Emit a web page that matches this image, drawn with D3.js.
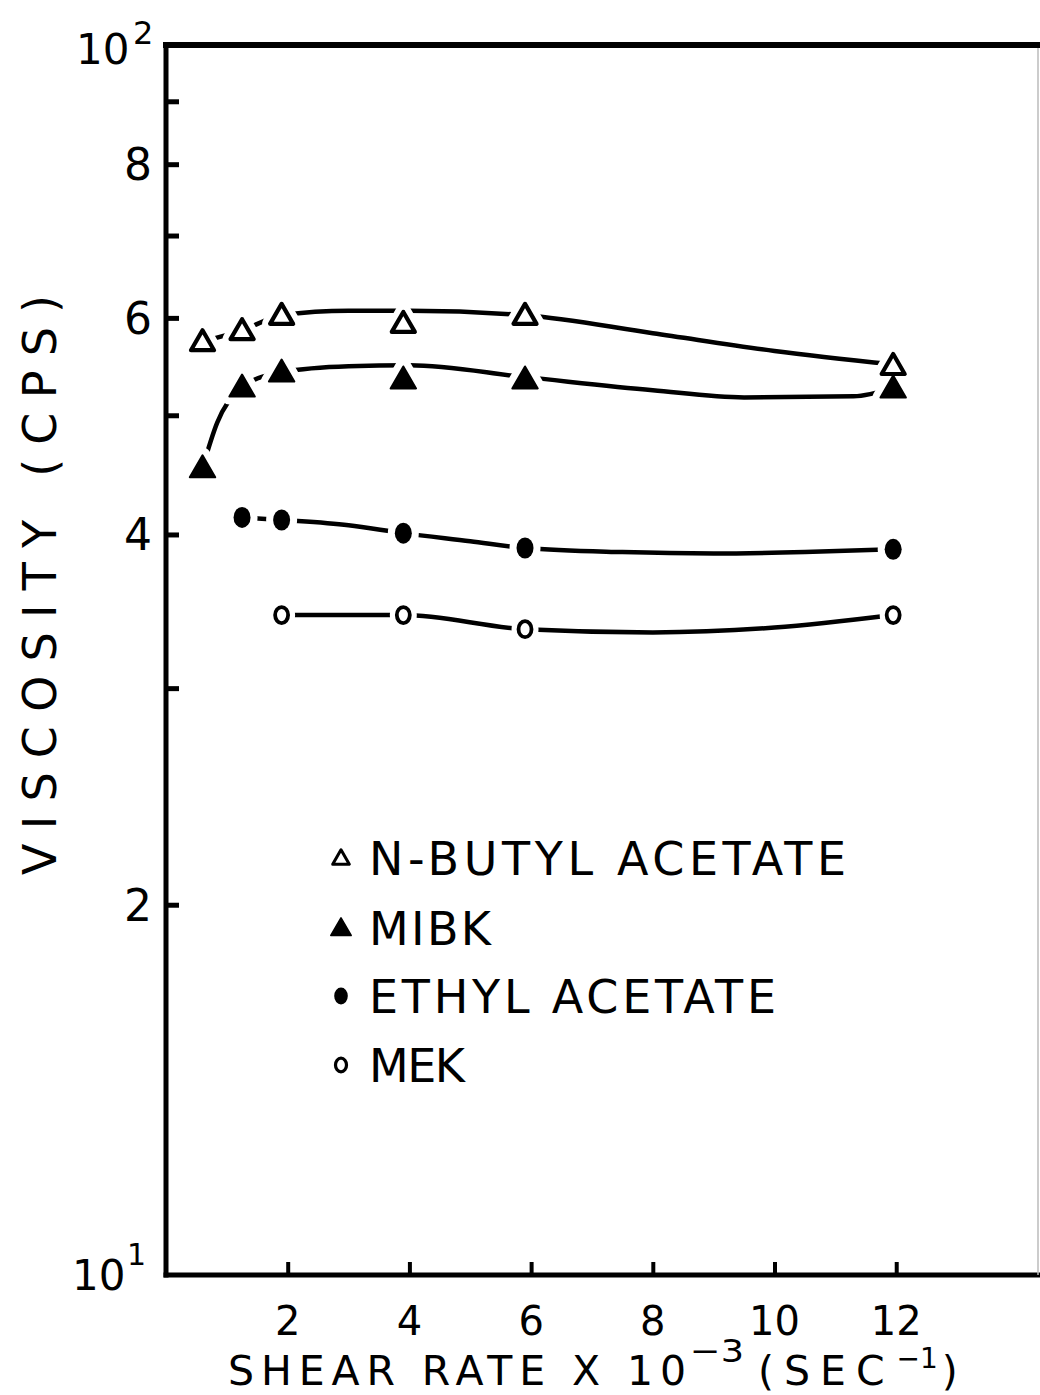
<!DOCTYPE html>
<html>
<head>
<meta charset="utf-8">
<script src="https://cdn.jsdelivr.net/npm/d3@7"></script>
<style>
  html, body { margin: 0; padding: 0; background: #fff; }
  svg { display: block; }
  text { font-family: "DejaVu Sans", "Liberation Sans", sans-serif; fill: #000; }
</style>
</head>
<body>
<svg id="chart" width="1040" height="1395"></svg>
<script>
// ---------------- data ----------------
const seriesNames = ["N-BUTYL ACETATE", "MIBK", "ETHYL ACETATE", "MEK"];
const seriesMarkers = ["openTriangle", "filledTriangle", "filledCircle", "openCircle"];

// measured points: shear rate x 10^-3 (1/s), viscosity (cps)
const nbutylX = [0.6, 1.25, 1.9, 3.9, 5.9, 11.95];
const nbutylV = [57.4, 58.6, 60.3, 59.4, 60.3, 54.9];
const mibkX   = [0.6, 1.25, 1.9, 3.9, 5.9, 11.95];
const mibkV   = [45.3, 52.7, 54.2, 53.5, 53.5, 52.6];
const ethylX  = [1.25, 1.9, 3.9, 5.9, 11.95];
const ethylV  = [41.3, 41.1, 40.1, 39.0, 38.9];
const mekX    = [1.9, 3.9, 5.9, 11.95];
const mekV    = [34.4, 34.4, 33.5, 34.4];

// hand-drawn smoothing curves
const nbutylFitX = [0.6, 1.25, 1.9, 3.0, 4.0, 5.9, 8.0, 10.0, 11.95];
const nbutylFitV = [57.4, 58.6, 60.3, 60.8, 60.8, 60.3, 58.3, 56.4, 55.0];
const mibkFitX   = [0.6, 0.84, 1.25, 1.9, 3.0, 4.0, 5.9, 8.0, 9.5, 11.3, 11.95];
const mibkFitV   = [45.3, 49.3, 52.7, 54.2, 54.8, 54.9, 53.7, 52.4, 51.7, 51.8, 52.6];
const ethylFitX  = [1.25, 1.9, 3.0, 3.9, 5.0, 5.9, 7.5, 9.0, 10.5, 11.95];
const ethylFitV  = [41.3, 41.1, 40.7, 40.1, 39.5, 39.0, 38.7, 38.6, 38.7, 38.9];
const mekFitX    = [1.9, 3.9, 5.9, 8.0, 10.0, 11.95];
const mekFitV    = [34.4, 34.4, 33.5, 33.3, 33.6, 34.4];

// axes
const xTickValues = [2, 4, 6, 8, 10, 12];
const xTickLabels = ["2", "4", "6", "8", "10", "12"];
const yTickValues = [20, 30, 40, 50, 60, 70, 80, 90];
const yTickLabels = ["2", "", "4", "", "6", "", "8", ""];
const xTitle = ["SHEAR RATE X 10", "\u22123", "(SEC", "\u22121", ")"];
const yTitle = "VISCOSITY  (CPS)";

// ---------------- drawing ----------------
const svg = d3.select("#chart");
const plotLeft = 166, plotRight = 1038, plotTop = 45, plotBottom = 1275;

const x = d3.scaleLinear().domain([0, 14.33]).range([plotLeft, plotRight]);
const y = d3.scaleLog().domain([10, 100]).range([plotBottom, plotTop]);

const series = [
  { name: seriesNames[0], marker: seriesMarkers[0], xs: nbutylX, vs: nbutylV, fx: nbutylFitX, fv: nbutylFitV },
  { name: seriesNames[1], marker: seriesMarkers[1], xs: mibkX,   vs: mibkV,   fx: mibkFitX,   fv: mibkFitV },
  { name: seriesNames[2], marker: seriesMarkers[2], xs: ethylX,  vs: ethylV,  fx: ethylFitX,  fv: ethylFitV },
  { name: seriesNames[3], marker: seriesMarkers[3], xs: mekX,    vs: mekV,    fx: mekFitX,    fv: mekFitV }
];

// frame
const frame = svg.append("g").attr("stroke", "#000").attr("fill", "none").attr("stroke-linecap", "square");
frame.append("line").attr("x1", plotLeft).attr("x2", 1040).attr("y1", plotTop).attr("y2", plotTop).attr("stroke-width", 6);
frame.append("line").attr("x1", plotLeft).attr("x2", plotLeft).attr("y1", plotTop).attr("y2", plotBottom).attr("stroke-width", 5);
frame.append("line").attr("x1", plotLeft).attr("x2", 1040).attr("y1", plotBottom).attr("y2", plotBottom).attr("stroke-width", 5);
frame.append("line").attr("x1", plotRight).attr("x2", plotRight).attr("y1", plotTop + 3).attr("y2", plotBottom)
  .attr("stroke", "#bbb").attr("stroke-width", 1.5).attr("stroke-linecap", "butt");

// y axis (ticks inward) via d3 axis
const yAxis = d3.axisRight(y).tickValues(yTickValues).tickSize(13).tickFormat("");
const gy = svg.append("g").attr("transform", `translate(${plotLeft},0)`).call(yAxis);
gy.select(".domain").remove();
gy.selectAll(".tick line").attr("stroke", "#000").attr("stroke-width", 5);

// y tick labels
svg.append("g").selectAll("text")
  .data(yTickValues.map((v, i) => ({ v, l: yTickLabels[i] })).filter(d => d.l))
  .join("text")
  .attr("x", 152).attr("y", d => y(d.v) + 16)
  .attr("text-anchor", "end").attr("font-size", 44)
  .text(d => d.l);

// 10^2 and 10^1 labels
svg.append("text").attr("x", 76).attr("y", 64).attr("font-size", 42).text("10");
svg.append("text").attr("x", 133).attr("y", 44).attr("font-size", 32).text("2");
svg.append("text").attr("x", 72).attr("y", 1290).attr("font-size", 42).text("10");
svg.append("text").attr("x", 127).attr("y", 1265).attr("font-size", 30).text("1");

// x axis ticks (inward)
const xAxis = d3.axisTop(x).tickValues(xTickValues).tickSize(13).tickFormat("");
const gx = svg.append("g").attr("transform", `translate(0,${plotBottom})`).call(xAxis);
gx.select(".domain").remove();
gx.selectAll(".tick line").attr("stroke", "#000").attr("stroke-width", 4);

svg.append("g").selectAll("text")
  .data(xTickValues.map((v, i) => ({ v, l: xTickLabels[i] })))
  .join("text")
  .attr("x", d => x(d.v)).attr("y", 1335)
  .attr("text-anchor", "middle").attr("font-size", 40)
  .text(d => d.l);

// x title
const xt = svg.append("g").attr("font-size", 41);
xt.append("text").attr("x", 228).attr("y", 1385).attr("textLength", 458).attr("lengthAdjust", "spacing").text(xTitle[0]);
xt.append("text").attr("x", 690).attr("y", 1362).attr("font-size", 32).attr("textLength", 54).attr("lengthAdjust", "spacingAndGlyphs").text(xTitle[1]);
const secText = xt.append("text").attr("x", 758).attr("y", 1385).attr("letter-spacing", 10);
secText.append("tspan").text(xTitle[2]);
secText.append("tspan").attr("dx", 2).attr("dy", -17).attr("font-size", 28).attr("letter-spacing", 0).text(xTitle[3]);
secText.append("tspan").attr("dx", 4).attr("dy", 17).attr("letter-spacing", 0).text(xTitle[4]);

// y title
svg.append("text")
  .attr("transform", "translate(56,585) rotate(-90)")
  .attr("text-anchor", "middle").attr("font-size", 46)
  .attr("textLength", 580).attr("lengthAdjust", "spacing")
  .text(yTitle);

// curves
const line = d3.line().x(d => x(d[0])).y(d => y(d[1])).curve(d3.curveMonotoneX);
svg.append("g").selectAll("path")
  .data(series)
  .join("path")
  .attr("d", s => line(s.fx.map((xv, i) => [xv, s.fv[i]])))
  .attr("fill", "none").attr("stroke", "#000").attr("stroke-width", 4.5)
  .attr("stroke-linecap", "round");

// marker drawing
function drawMarker(g, type, cx, cy, scale, halo) {
  const k = scale;
  if (type === "openTriangle" || type === "filledTriangle") {
    const size = type === "openTriangle" ? 230 * k * k : 280 * k * k;
    const p = g.append("path")
      .attr("d", d3.symbol(d3.symbolTriangle, size)())
      .attr("transform", `translate(${cx},${cy + 2 * k})`)
      .attr("stroke-linejoin", "round");
    if (halo) p.attr("fill", "#fff").attr("stroke", "#fff").attr("stroke-width", 16 * k);
    else if (type === "openTriangle") p.attr("fill", "#fff").attr("stroke", "#000").attr("stroke-width", 4.2 * k);
    else p.attr("fill", "#000").attr("stroke", "#000").attr("stroke-width", 2 * k);
  } else {
    const filled = type === "filledCircle";
    const rx = (filled ? 8.5 : 6.5) * k, ry = (filled ? 10.5 : 8) * k;
    const e = g.append("ellipse").attr("cx", cx).attr("cy", cy).attr("rx", rx).attr("ry", ry);
    if (halo) e.attr("fill", "#fff").attr("stroke", "#fff").attr("stroke-width", 14 * k);
    else if (filled) e.attr("fill", "#000");
    else e.attr("fill", "#fff").attr("stroke", "#000").attr("stroke-width", 3.8 * k);
  }
}

const mk = svg.append("g");
series.forEach(s => {
  s.xs.forEach((xv, i) => drawMarker(mk, s.marker, x(xv), y(s.vs[i]), 1, true));
});
series.forEach(s => {
  s.xs.forEach((xv, i) => drawMarker(mk, s.marker, x(xv), y(s.vs[i]), 1, false));
});

// legend
const legendRowsY = [858, 928, 996, 1065];
const legendTextLen = [477, 122, 407, 96];
const legendScale = [0.72, 0.8, 0.8, 0.85];
const lg = svg.append("g");
series.forEach((s, i) => {
  drawMarker(lg, s.marker, 341, legendRowsY[i], legendScale[i], false);
  lg.append("text")
    .attr("x", 369).attr("y", legendRowsY[i] + 17)
    .attr("font-size", 46)
    .attr("textLength", legendTextLen[i]).attr("lengthAdjust", "spacing")
    .text(s.name);
});
</script>
</body>
</html>
